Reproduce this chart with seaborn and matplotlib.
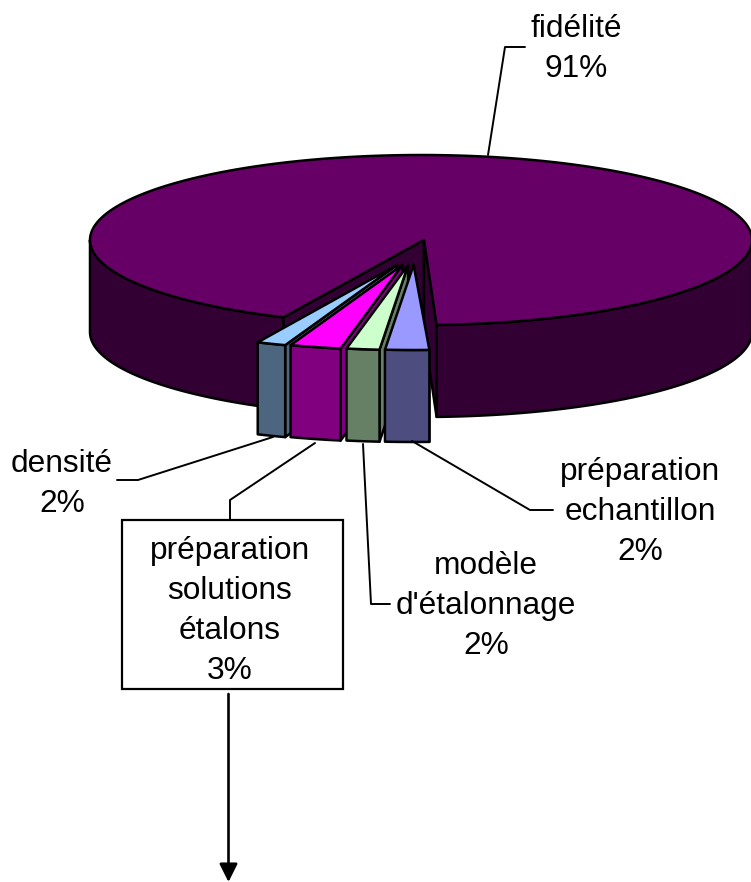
import numpy as np
import matplotlib.pyplot as plt
import seaborn as sns

# slices going clockwise from the big one, percent (estimated before rounding)
names = ["préparation\nechantillon", "modèle\nd'étalonnage", "préparation\nsolutions\nétalons", "densité"]
shares = [2.4, 1.8, 2.8, 1.6]
big_name = "fidélité"
big_share = 91.4
top_colors = ["#9999ff", "#ccffcc", "#ff00ff", "#99ccff"]
front_colors = ["#4d4d80", "#668066", "#800080", "#4d6680"]
body_top = "#660066"
body_side = "#330033"

sns.set_theme(style="white")
plt.rcParams["font.family"] = ["Liberation Sans", "DejaVu Sans"]

fig = plt.figure(figsize=(7.51, 8.82), dpi=100)
ax = fig.add_axes([0, 0, 1, 1])
ax.set_xlim(0, 751)
ax.set_ylim(882, 0)
ax.axis("off")

# pie drawn as a tilted ellipse
cx, cy = 421, 240
apex_x = 424
a, b = 331, 85
h = 92
lw = 1.8
squeeze = 0.88  # tilt makes the front angles look narrower


def rim(t, rx=a, ry=b, x0=cx, y0=cy):
    # t in degrees from the front of the pie, positive to the right
    t = np.radians(t)
    return x0 + rx * np.sin(t), y0 + ry * np.cos(t)


def poly(xs, ys, color, z=2):
    ax.fill(xs, ys, facecolor=color, edgecolor="black", lw=lw, joinstyle="round", zorder=z)


start = 2.7
steps = np.array(shares) * 3.6 * squeeze
angle = np.r_[start, start - np.cumsum(steps)]
left_end = angle[-1]

# outer wall of the big slice
t = np.linspace(left_end, -90, 80)
x, y = rim(t)
poly(np.r_[x, x[::-1]], np.r_[y, y[::-1] + h], body_side)
t = np.linspace(start, 90, 80)
x, y = rim(t)
poly(np.r_[x, x[::-1]], np.r_[y, y[::-1] + h], body_side)

# cut faces
for edge in [left_end, start]:
    ex, ey = rim(edge)
    poly([apex_x, ex, ex, apex_x], [cy, ey, ey + h, cy + h], body_side)

# top
t = np.linspace(start, 360 + left_end, 300)
x, y = rim(t)
poly(np.r_[apex_x, x], np.r_[cy, y], body_top, 3)

# small exploded slices, drawn left to right
for i in range(len(shares) - 1, -1, -1):
    t1, t2 = angle[i + 1], angle[i]
    mid = np.radians((t1 + t2) / 2)
    px = 414.5 + 47 * np.sin(mid)
    py = 265
    t = np.linspace(t1, t2, 12)
    x, y = rim(t, 335, 85, px, py)
    # side wall seen on the right
    poly([x[-1], px, px, x[-1]], [y[-1], py, py + h, y[-1] + h], front_colors[i], 5)
    poly(np.r_[x, x[::-1]], np.r_[y, y[::-1] + h], front_colors[i], 5)
    poly(np.r_[px, x], np.r_[py, y], top_colors[i], 5)

# leaders
leaders = [
    ([488, 505, 525], [155, 47, 47]),
    ([412, 530, 553], [441, 510, 510]),
    ([363, 371, 390], [444, 604, 604]),
    ([315, 230, 230], [443, 500, 520]),
    ([273, 138, 117], [437, 480, 480]),
]
for lx, ly in leaders:
    ax.plot(lx, ly, color="black", lw=1.4, zorder=6)

fs = 22.8
ls = 1.44
ax.text(576, 49, f"{big_name}\n{big_share:.0f}%", ha="center", va="center", fontsize=fs, linespacing=ls, color="black")
ax.text(640, 512, f"{names[0]}\n{shares[0]:.0f}%", ha="center", va="center", fontsize=fs, linespacing=ls, color="black")
ax.text(486, 606, f"{names[1]}\n{shares[1]:.0f}%", ha="center", va="center", fontsize=fs, linespacing=ls, color="black")
ax.text(230, 611, f"{names[2]}\n{shares[2]:.0f}%", ha="center", va="center", fontsize=fs, linespacing=ls, color="black")
ax.text(62, 484, f"{names[3]}\n{shares[3]:.0f}%", ha="center", va="center", fontsize=fs, linespacing=ls, color="black")

# box and arrow
ax.add_patch(plt.Rectangle((122, 520), 221, 169, fill=False, edgecolor="black", lw=1.6, zorder=6))
ax.annotate("", xy=(228.5, 882), xytext=(228.5, 694),
            arrowprops=dict(arrowstyle="-|>,head_width=0.5,head_length=1", mutation_scale=11, color="black",
                            lw=1.9, shrinkA=0, shrinkB=0))

fig.savefig("out.png", dpi=100, facecolor="white")
